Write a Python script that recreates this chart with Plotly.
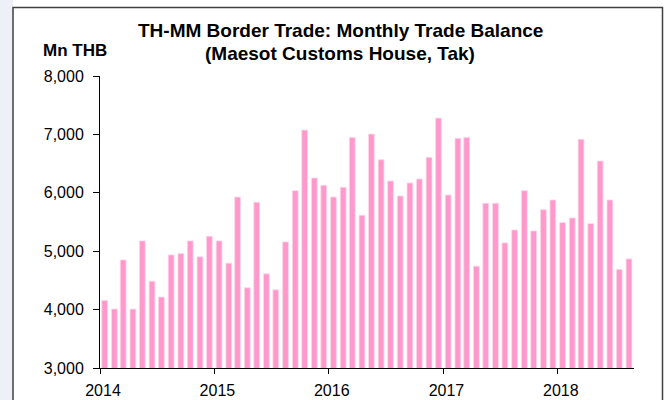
import plotly.graph_objects as go

months = [f"{y}-{m:02d}-16" for y in range(2014, 2019) for m in range(1, 13)][:56]
balance = [
    4156, 4009, 4851, 4009, 5176, 4487, 4214, 4937, 4959, 5176, 4903, 5256,
    5176, 4795, 5928, 4373, 5838, 4612, 4338, 5159, 6036, 7074, 6253, 6128,
    5928, 6094, 6949, 5615, 7005, 6566, 6202, 5945, 6168, 6236, 6607, 7279,
    5962, 6932, 6949, 4744, 5821, 5821, 5142, 5364, 6036, 5347, 5711, 5877,
    5489, 5569, 6915, 5472, 6544, 5877, 4686, 4868,
]
year_ticks = ["2014-01-01", "2015-01-01", "2016-01-01", "2017-01-01", "2018-01-01"]
year_labels = ["2014", "2015", "2016", "2017", "2018"]
y_ticks = [3000, 4000, 5000, 6000, 7000, 8000]

DAY = 86400000
fig = go.Figure(go.Bar(
    x=months, y=balance,
    width=[18.5 * DAY] * len(months),
    marker=dict(color="#ff99cc", line=dict(color="#ffd6ea", width=0.8)),
))

font = "Liberation Sans, Arial, sans-serif"
L, R, T, B = 100, 36, 76, 32
W, H = 670, 400
pw, ph = W - L - R, H - T - B

def px(x):
    return (x - L) / pw

def py(y):
    return (H - B - y) / ph

fig.update_layout(
    width=W, height=H,
    margin=dict(l=L, r=R, t=T, b=B, autoexpand=False),
    paper_bgcolor="white", plot_bgcolor="white",
    showlegend=False,
    font=dict(family=font, color="black"),
    xaxis=dict(
        type="date", range=["2014-01-01", "2018-09-01"],
        tickvals=year_ticks, ticktext=year_labels,
        showgrid=False, zeroline=False, automargin=False,
        showline=True, linecolor="black", linewidth=1,
        ticks="outside", ticklen=5, tickcolor="black",
        tickfont=dict(size=16, family=font),
        ticklabelstandoff=3, ticklabelshift=3,
    ),
    yaxis=dict(
        range=[3000, 8000], tickvals=y_ticks,
        tickformat=",d", automargin=False,
        showgrid=False, zeroline=False,
        showline=True, linecolor="black", linewidth=1,
        ticks="outside", ticklen=6, tickcolor="black",
        tickfont=dict(size=16, family=font),
        ticklabelstandoff=6,
    ),
    shapes=[
        dict(type="rect", xref="paper", yref="paper",
             x0=px(-5), x1=px(13), y0=py(420), y1=py(-10),
             fillcolor="#eef0f8", line=dict(width=0), layer="below"),
        dict(type="rect", xref="paper", yref="paper",
             x0=px(13), x1=px(662.5), y0=py(430), y1=py(7.5),
             fillcolor="rgba(0,0,0,0)", line=dict(color="#404040", width=1.5),
             layer="below"),
    ],
    annotations=[
        dict(text="<b>TH-MM Border Trade: Monthly Trade Balance</b>",
             xref="paper", yref="paper", x=px(340), y=py(31),
             xanchor="center", yanchor="middle", showarrow=False,
             font=dict(size=19, family=font)),
        dict(text="<b>(Maesot Customs House, Tak)</b>",
             xref="paper", yref="paper", x=px(340), y=py(53.5),
             xanchor="center", yanchor="middle", showarrow=False,
             font=dict(size=19, family=font)),
        dict(text="<b>Mn THB</b>",
             xref="paper", yref="paper", x=px(40.5), y=py(50.5),
             xanchor="left", yanchor="middle", showarrow=False,
             font=dict(size=17, family=font)),
    ],
)

fig.write_html(
    "out.html",
    config={"displayModeBar": False},
    post_script="document.body.style.margin='0';document.body.style.overflow='hidden';",
)
